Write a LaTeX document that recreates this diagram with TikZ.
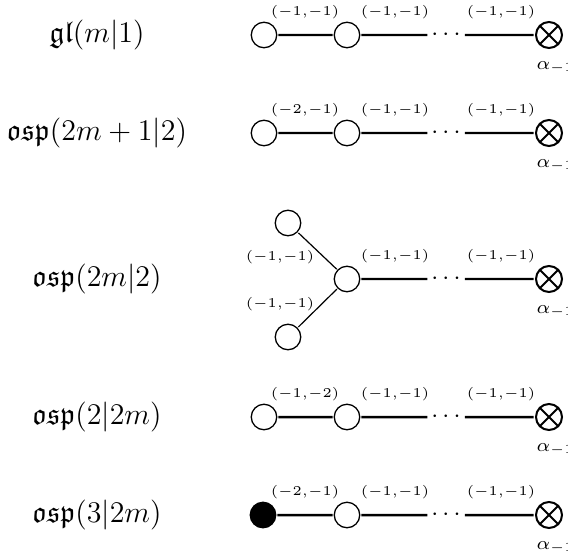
\documentclass[tikz,border=0pt]{standalone}
\usepackage{amssymb}

\newcommand{\wt}[2]{$\scriptscriptstyle(#1,#2)$}

\tikzset{
  root/.style={circle, draw, line width=1.3pt, minimum size=10.2pt, inner sep=0pt},
  blackroot/.style={root, fill=black},
  oddroot/.style={circle, draw, line width=2pt, minimum size=10.4pt, inner sep=0pt,
    path picture={\draw[line width=2pt]
      (path picture bounding box.north west) -- (path picture bounding box.south east)
      (path picture bounding box.north east) -- (path picture bounding box.south west);}},
  bond/.style={line width=2.3pt},
  thinbond/.style={line width=1.2pt},
  wlabel/.style={inner sep=0pt, scale=1.08},
  dotsnode/.style={inner sep=1.5pt},
  algname/.style={font=\fontsize{12}{14}\selectfont},
  alphalabel/.style={anchor=base west, inner sep=0pt, scale=1.05}
}

\begin{document}
\begin{tikzpicture}[x=0.4pt, y=-0.4pt, scale=2.5, every node/.append style={transform shape}]

  \useasboundingbox (0, 0) rectangle (568, 560);

  % gl(m|1)
  \node[algname] (name1) at (97, 35) {$\mathfrak{gl}(m|1)$};
  \node[root] (r1a) at (264, 35) {};
  \node[root] (r1b) at (347, 35) {};
  \node[dotsnode] (r1dots) at (446, 35) {$\cdots$};
  \node[oddroot] (r1x) at (549, 35) {};
  \node[wlabel] (w1a) at (305, 12) {\wt{-1}{-1}};
  \node[wlabel] (w1b) at (395, 12) {\wt{-1}{-1}};
  \node[wlabel] (w1c) at (501, 12) {\wt{-1}{-1}};
  \node[alphalabel] (al1) at (536, 69) {$\scriptstyle\alpha_{-1}$};
  \draw[bond] (r1a) -- (r1b);
  \draw[bond] (r1b) -- (r1dots);
  \draw[bond] (r1dots) -- (r1x);

  % osp(2m+1|2)
  \node[algname] (name2) at (97, 133) {$\mathfrak{osp}(2m+1|2)$};
  \node[root] (r2a) at (264, 133) {};
  \node[root] (r2b) at (347, 133) {};
  \node[dotsnode] (r2dots) at (446, 133) {$\cdots$};
  \node[oddroot] (r2x) at (549, 133) {};
  \node[wlabel] (w2a) at (305, 110) {\wt{-2}{-1}};
  \node[wlabel] (w2b) at (395, 110) {\wt{-1}{-1}};
  \node[wlabel] (w2c) at (501, 110) {\wt{-1}{-1}};
  \node[alphalabel] (al2) at (536, 167) {$\scriptstyle\alpha_{-1}$};
  \draw[bond] (r2a) -- (r2b);
  \draw[bond] (r2b) -- (r2dots);
  \draw[bond] (r2dots) -- (r2x);

  % osp(2m|2)
  \node[algname] (name3) at (97, 279) {$\mathfrak{osp}(2m|2)$};
  \node[root] (r3u) at (288, 223) {};
  \node[root] (r3l) at (288, 337) {};
  \node[root] (r3b) at (347, 279) {};
  \node[dotsnode] (r3dots) at (446, 279) {$\cdots$};
  \node[oddroot] (r3x) at (549, 279) {};
  \node[wlabel] (w3u) at (280, 257) {\wt{-1}{-1}};
  \node[wlabel] (w3l) at (280, 304) {\wt{-1}{-1}};
  \node[wlabel] (w3b) at (395, 256) {\wt{-1}{-1}};
  \node[wlabel] (w3c) at (501, 256) {\wt{-1}{-1}};
  \node[alphalabel] (al3) at (536, 313) {$\scriptstyle\alpha_{-1}$};
  \draw[thinbond] (r3u) -- (r3b);
  \draw[thinbond] (r3l) -- (r3b);
  \draw[bond] (r3b) -- (r3dots);
  \draw[bond] (r3dots) -- (r3x);

  % osp(2|2m)
  \node[algname] (name4) at (97, 417) {$\mathfrak{osp}(2|2m)$};
  \node[root] (r4a) at (264, 417) {};
  \node[root] (r4b) at (347, 417) {};
  \node[dotsnode] (r4dots) at (446, 417) {$\cdots$};
  \node[oddroot] (r4x) at (549, 417) {};
  \node[wlabel] (w4a) at (305, 394) {\wt{-1}{-2}};
  \node[wlabel] (w4b) at (395, 394) {\wt{-1}{-1}};
  \node[wlabel] (w4c) at (501, 394) {\wt{-1}{-1}};
  \node[alphalabel] (al4) at (536, 451) {$\scriptstyle\alpha_{-1}$};
  \draw[bond] (r4a) -- (r4b);
  \draw[bond] (r4b) -- (r4dots);
  \draw[bond] (r4dots) -- (r4x);

  % osp(3|2m)
  \node[algname] (name5) at (97, 515) {$\mathfrak{osp}(3|2m)$};
  \node[blackroot] (r5a) at (263, 515) {};
  \node[root] (r5b) at (347, 515) {};
  \node[dotsnode] (r5dots) at (446, 515) {$\cdots$};
  \node[oddroot] (r5x) at (549, 515) {};
  \node[wlabel] (w5a) at (305, 492) {\wt{-2}{-1}};
  \node[wlabel] (w5b) at (395, 492) {\wt{-1}{-1}};
  \node[wlabel] (w5c) at (501, 492) {\wt{-1}{-1}};
  \node[alphalabel] (al5) at (536, 549) {$\scriptstyle\alpha_{-1}$};
  \draw[bond] (r5a) -- (r5b);
  \draw[bond] (r5b) -- (r5dots);
  \draw[bond] (r5dots) -- (r5x);

\end{tikzpicture}
\end{document}
